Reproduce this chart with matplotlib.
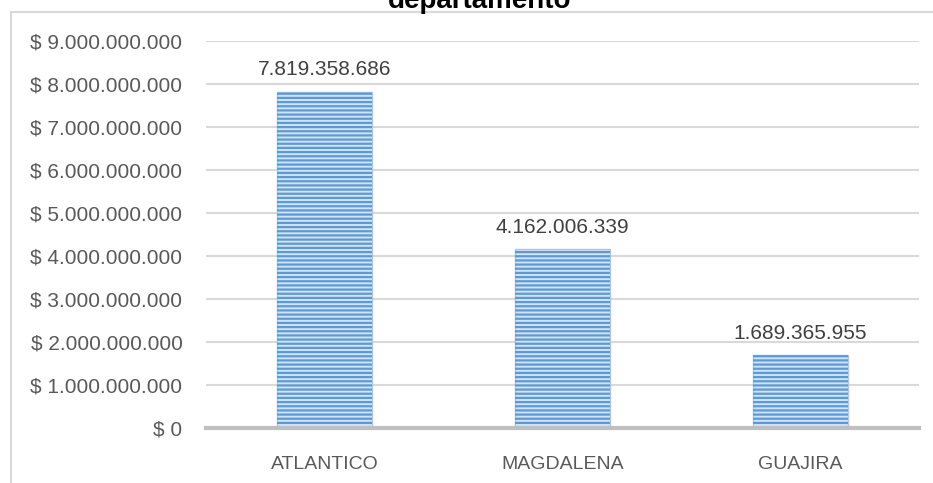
import matplotlib
matplotlib.use("Agg")
import matplotlib.pyplot as plt
from matplotlib.patches import Rectangle

categories = ["ATLANTICO", "MAGDALENA", "GUAJIRA"]
values = [7819358686, 4162006339, 1689365955]
yticks = [0, 1e9, 2e9, 3e9, 4e9, 5e9, 6e9, 7e9, 8e9, 9e9]
title = "departamento"

def fmt_dots(v):
    return f"{int(v):,}".replace(",", ".")

plt.rcParams['font.family'] = ['Liberation Sans', 'DejaVu Sans']
plt.rcParams['hatch.linewidth'] = 1.6

W, H = 933, 483
fig = plt.figure(figsize=(W / 100, H / 100), dpi=100)

# chart border
fig.add_artist(Rectangle((11 / W, -0.1), 2, 1 - 12 / H + 0.1, transform=fig.transFigure,
                         fill=False, edgecolor='#d9d9d9', linewidth=1.5))

left, right = 206 / W, 919 / W
bottom, top = (H - 428) / H, (H - 41) / H
ax = fig.add_axes([left, bottom, right - left, top - bottom])
ax.set_xlim(-0.5, len(categories) - 0.5)
ax.set_ylim(0, 9e9)

x = list(range(len(categories)))
ax.bar(x, values, width=0.4, color='#d4e3f4', edgecolor='#a9c8ea', linewidth=1, zorder=2)
ax.bar(x, values, width=0.4, facecolor='none', edgecolor='#5b9bd5', linewidth=0,
       hatch='----', zorder=3)

for xi, v in zip(x, values):
    ax.annotate(fmt_dots(v), (xi, v), xytext=(0, 9), textcoords='offset points',
                ha='center', va='bottom', fontsize=15, color='#404040')

ax.set_yticks(yticks)
ax.set_yticklabels(["$ " + fmt_dots(t) for t in yticks], fontsize=15, color='#595959')
ax.set_xticks(x)
ax.set_xticklabels(categories, fontsize=14, color='#595959')
ax.tick_params(axis='y', length=0, pad=17)
ax.tick_params(axis='x', length=0, pad=20)
ax.grid(axis='y', color='#d9d9d9', linewidth=1.5, zorder=0)
ax.set_axisbelow(True)
for s in ['top', 'right', 'left']:
    ax.spines[s].set_visible(False)
ax.spines['bottom'].set_color('#bfbfbf')
ax.spines['bottom'].set_linewidth(3)
ax.spines['bottom'].set_zorder(4)

fig.text(480 / W, 1 - 8 / H, title, ha='center', va='baseline', fontsize=20,
         fontweight='bold', color='black')

fig.savefig("out.png", dpi=100, facecolor='white')
